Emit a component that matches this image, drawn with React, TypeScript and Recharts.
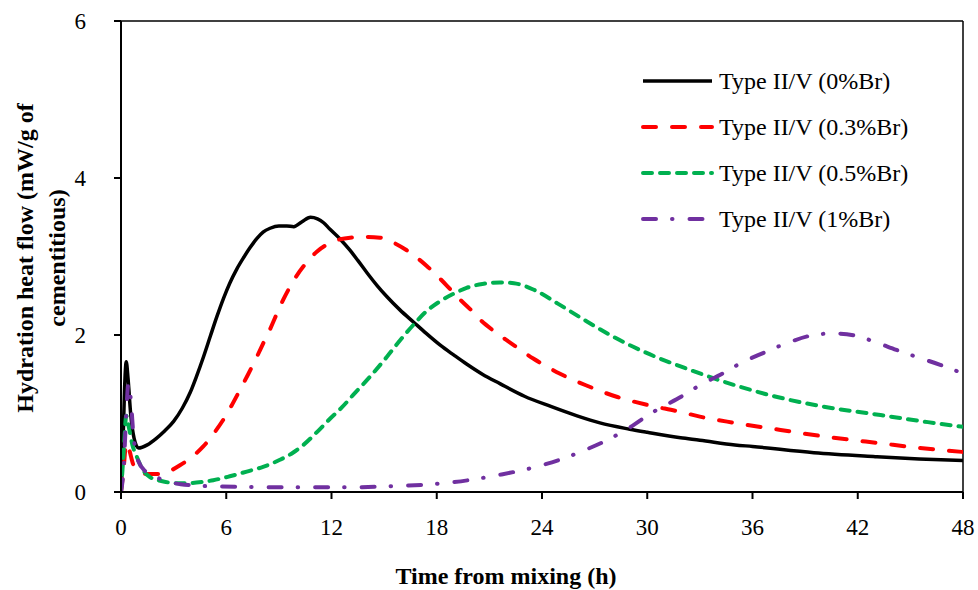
import { LineChart, Line, XAxis, YAxis, Legend, ReferenceLine } from 'recharts'

// hours from mixing / heat flow (mW/g) for each mix
const time0 = [0, 0.1, 0.2, 0.3, 0.4, 0.55, 0.75, 1, 1.5, 2, 2.5, 3, 3.5, 3.95, 4.3, 4.7, 5.1, 5.46, 5.85, 6.2, 6.6, 7, 7.35, 7.75, 8.1, 8.5, 9, 9.45, 9.85, 10.3, 10.8, 11.2, 11.55, 11.9, 12.5, 13.05, 13.5, 14, 14.6, 15.15, 15.9, 16.7, 17.4, 18.2, 19, 19.7, 20.6, 21.6, 23, 24.5, 26, 27.3, 29, 30, 31.9, 33, 35, 36, 39.5, 43, 45.5, 48]
const flow0 = [0, 0.5, 1.3, 1.66, 1.45, 1.0, 0.68, 0.56, 0.6, 0.68, 0.78, 0.9, 1.07, 1.27, 1.47, 1.72, 1.99, 2.23, 2.47, 2.66, 2.84, 2.99, 3.11, 3.23, 3.31, 3.36, 3.39, 3.39, 3.38, 3.44, 3.5, 3.48, 3.43, 3.35, 3.22, 3.08, 2.95, 2.8, 2.63, 2.49, 2.32, 2.16, 2.02, 1.87, 1.74, 1.63, 1.5, 1.38, 1.22, 1.09, 0.97, 0.88, 0.8, 0.76, 0.69, 0.66, 0.6, 0.58, 0.5, 0.45, 0.42, 0.4]

const time03 = [0, 0.15, 0.3, 0.45, 0.7, 1, 1.5, 2.2, 2.8, 3.36, 4, 4.69, 5.3, 5.83, 6.3, 6.78, 7.25, 7.74, 8.1, 8.49, 8.9, 9.25, 9.6, 10, 10.6, 11.16, 11.9, 12.5, 13.06, 14, 14.77, 15.5, 16.29, 16.9, 17.43, 18, 18.57, 19.2, 19.9, 20.5, 21.2, 22.2, 23.5, 25, 26.5, 28.3, 30, 31.9, 33, 35, 37.6, 40, 43.3, 46, 48]
const flow03 = [0, 0.3, 0.62, 0.55, 0.35, 0.27, 0.23, 0.23, 0.27, 0.34, 0.44, 0.58, 0.75, 0.92, 1.1, 1.3, 1.5, 1.72, 1.89, 2.07, 2.28, 2.45, 2.6, 2.75, 2.93, 3.06, 3.17, 3.22, 3.24, 3.25, 3.24, 3.18, 3.08, 2.98, 2.88, 2.76, 2.63, 2.48, 2.33, 2.19, 2.06, 1.9, 1.7, 1.51, 1.36, 1.21, 1.11, 1.02, 0.96, 0.88, 0.79, 0.71, 0.62, 0.55, 0.51]

const time05 = [0, 0.15, 0.3, 0.45, 0.65, 0.9, 1.2, 1.65, 2.3, 3.36, 4.3, 5.26, 6.2, 7.17, 8.1, 9.06, 9.8, 10.4, 11.2, 11.9, 12.6, 13.25, 14.2, 15.15, 15.9, 16.67, 17.4, 18.19, 19, 19.7, 20.6, 21.6, 22.4, 23.5, 24.9, 26.35, 27.8, 29.2, 30.5, 31.9, 33, 35, 37.6, 40, 43.3, 46, 48]
const flow05 = [0, 0.5, 0.97, 0.82, 0.6, 0.45, 0.3, 0.19, 0.14, 0.11, 0.12, 0.15, 0.2, 0.26, 0.32, 0.41, 0.5, 0.6, 0.77, 0.93, 1.08, 1.24, 1.47, 1.72, 1.93, 2.13, 2.3, 2.43, 2.53, 2.6, 2.65, 2.67, 2.66, 2.58, 2.4, 2.2, 2.01, 1.85, 1.72, 1.6, 1.51, 1.36, 1.2, 1.09, 0.98, 0.89, 0.83]

const time1 = [0, 0.15, 0.3, 0.42, 0.55, 0.7, 0.9, 1.4, 1.9, 3.4, 5.6, 9.5, 13, 16, 17.8, 19.8, 21.6, 23.3, 25, 26.4, 27.7, 29, 30.2, 31, 31.9, 33, 34.3, 35.4, 36.6, 38, 39.5, 40.6, 41.9, 43, 44.2, 45.5, 46.7, 48]
const flow1 = [0, 0.3, 1.0, 1.38, 1.2, 0.75, 0.45, 0.26, 0.2, 0.1, 0.07, 0.06, 0.06, 0.08, 0.1, 0.15, 0.22, 0.3, 0.41, 0.53, 0.66, 0.82, 1.0, 1.1, 1.21, 1.36, 1.51, 1.65, 1.77, 1.9, 2.0, 2.02, 1.99, 1.91, 1.81, 1.71, 1.62, 1.51]

const xTicks = [0, 6, 12, 18, 24, 30, 36, 42, 48]
const yTicks = [0, 2, 4, 6]

const toRows = (t: number[], v: number[]) => t.map((x, i) => ({ t: x, v: v[i] }))

const series = [
  { name: 'Type II/V (0%Br)', data: toRows(time0, flow0), color: '#000000', dash: undefined, width: 3.5 },
  { name: 'Type II/V (0.3%Br)', data: toRows(time03, flow03), color: '#ff0000', dash: '13 16', width: 4 },
  { name: 'Type II/V (0.5%Br)', data: toRows(time05, flow05), color: '#00b050', dash: '9 8', width: 4 },
  { name: 'Type II/V (1%Br)', data: toRows(time1, flow1), color: '#7030a0', dash: '13 16 0.5 17', width: 4 },
]

const font = '"Liberation Serif", "Times New Roman", serif'

const LegendBox = () => (
  <div style={{ fontFamily: font, fontSize: 24, color: '#000' }}>
    {series.map((s) => (
      <div key={s.name} style={{ display: 'flex', alignItems: 'center', height: 46 }}>
        <svg width={78} height={10}>
          <line x1={2} y1={5} x2={71} y2={5} stroke={s.color} strokeWidth={s.width}
            strokeDasharray={s.dash} strokeLinecap={s.dash ? 'round' : 'butt'} />
        </svg>
        <span>{s.name}</span>
      </div>
    ))}
  </div>
)

const YTitle = () => (
  <g fontFamily={font} fontSize={24} fontWeight="bold" fill="#000">
    <text x={33} y={258} transform="rotate(-90 33 258)" textAnchor="middle">Hydration heat flow (mW/g of</text>
    <text x={65} y={258} transform="rotate(-90 65 258)" textAnchor="middle">cementitious)</text>
  </g>
)

export default function App() {
  return (
    <div style={{ position: 'absolute', left: 0, top: 0, background: '#fff' }}>
      <LineChart width={978} height={590} margin={{ top: 21, right: 15, left: 0, bottom: 0 }}>
        <XAxis
          type="number"
          dataKey="t"
          domain={[0, 48]}
          ticks={xTicks}
          allowDataOverflow
          height={98}
          tickSize={7}
          tickMargin={20}
          stroke="#000"
          strokeWidth={2}
          tick={{ fontFamily: font, fontSize: 23, fill: '#000' }}
          label={{ value: 'Time from mixing (h)', position: 'insideBottom', offset: 6, dx: -36, fontFamily: font, fontSize: 24, fontWeight: 'bold', fill: '#000' }}
        />
        <YAxis
          type="number"
          domain={[0, 6]}
          ticks={yTicks}
          allowDataOverflow
          width={121}
          tickSize={7}
          tickMargin={28}
          stroke="#000"
          strokeWidth={2}
          tick={{ fontFamily: font, fontSize: 23, fill: '#000' }}
          label={{ content: () => <YTitle /> }}
        />
        <ReferenceLine y={6} stroke="#000" strokeWidth={1.5} />
        <ReferenceLine x={48} stroke="#000" strokeWidth={1.5} />
        {series.map((s) => (
          <Line
            key={s.name}
            data={s.data}
            dataKey="v"
            name={s.name}
            type="monotone"
            stroke={s.color}
            strokeWidth={s.width}
            strokeDasharray={s.dash}
            strokeLinecap={s.dash ? 'round' : 'butt'}
            dot={false}
            activeDot={false}
            isAnimationActive={false}
          />
        ))}
        <Legend
          layout="vertical"
          align="center"
          verticalAlign="middle"
          wrapperStyle={{ left: 641, top: 58, width: 320 }}
          content={() => <LegendBox />}
        />
      </LineChart>
    </div>
  )
}
